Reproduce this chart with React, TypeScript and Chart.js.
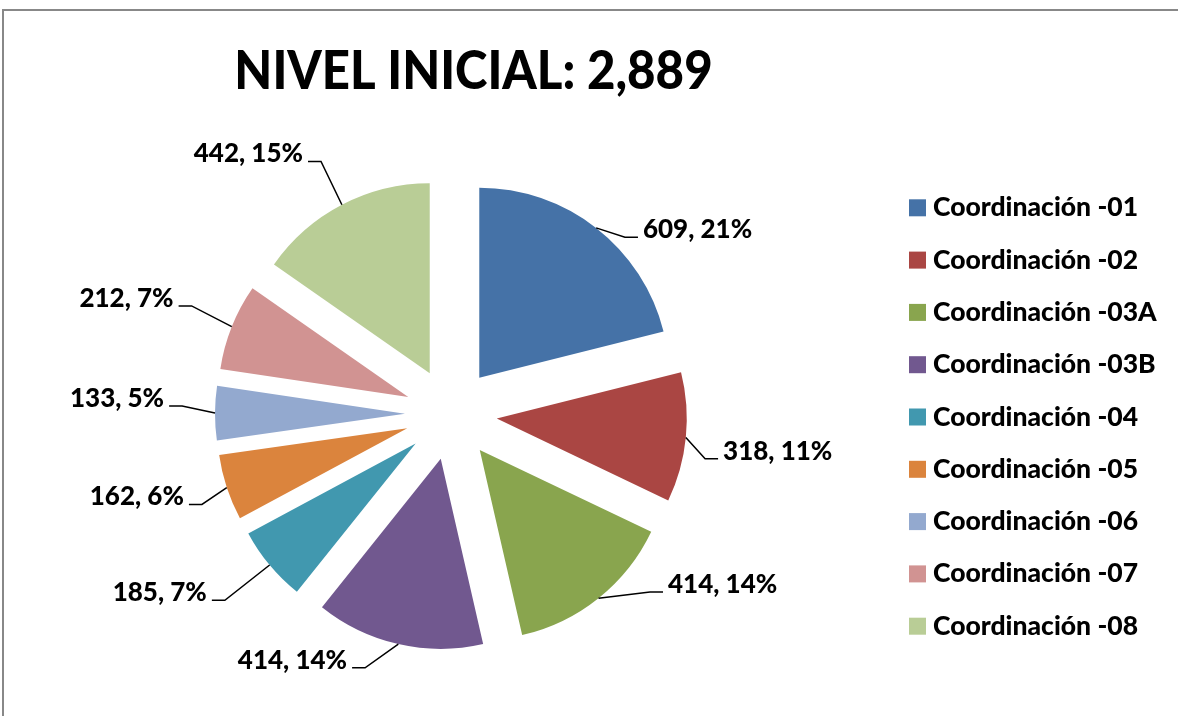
import React, { useEffect, useRef } from "react";
import { Chart, registerables } from "chart.js";

Chart.register(...registerables);

// ---- Data ----
const categories = [
  "Coordinación -01",
  "Coordinación -02",
  "Coordinación -03A",
  "Coordinación -03B",
  "Coordinación -04",
  "Coordinación -05",
  "Coordinación -06",
  "Coordinación -07",
  "Coordinación -08",
];
const values = [609, 318, 414, 414, 185, 162, 133, 212, 442];
const percentLabels = [21, 11, 14, 14, 7, 6, 5, 7, 15];
const titleText = "NIVEL INICIAL: 2,889";

// ---- Styles / label placement (not data) ----
const colors = [
  "#4572A7",
  "#AA4643",
  "#89A54E",
  "#71588F",
  "#4198AF",
  "#DB843D",
  "#93A9CF",
  "#D19392",
  "#B9CD96",
];
// angular nudge (degrees) and leader length (px) of each data label, as placed in the original
const labelNudgeDeg = [6.6, 4.3, -9.5, 5.8, 0.3, -1.8, 1.5, 0.9, 0.3];
const labelLeader = [12, 22, 31, 32, 57, 29, 33, 45, 48];

const FONT = "Lato, 'Liberation Sans', sans-serif";
const WEIGHT = "900";
const TITLE_SIZE = 54;
const TITLE_SQUEEZE = 0.91;
const LABEL_SIZE = 26;
const LEGEND_SIZE = 26.5;
const EXPLODE = 46;
const RADIUS = 190;
const LEGEND_ROW = 52.3;

const centerOf = (chart: any) => {
  const a = chart.chartArea;
  return { cx: (a.left + a.right) / 2, cy: (a.top + a.bottom) / 2 };
};

const framePlugin = {
  id: "frame",
  beforeDraw(chart: any) {
    const { ctx, width, height } = chart;
    ctx.save();
    ctx.fillStyle = "#ffffff";
    ctx.fillRect(0, 0, width, height);
    ctx.strokeStyle = "#888888";
    ctx.lineWidth = 2;
    ctx.beginPath();
    ctx.moveTo(3, height + 5);
    ctx.lineTo(3, 10);
    ctx.lineTo(width + 5, 10);
    ctx.stroke();
    ctx.restore();
  },
};

const explodePlugin = {
  id: "explode",
  beforeDatasetsDraw(chart: any) {
    const { cx, cy } = centerOf(chart);
    const meta = chart.getDatasetMeta(0);
    meta.data.forEach((arc: any) => {
      const mid = (arc.startAngle + arc.endAngle) / 2;
      arc.x = cx + EXPLODE * Math.cos(mid);
      arc.y = cy + EXPLODE * Math.sin(mid);
    });
  },
};

const labelPlugin = {
  id: "sliceLabels",
  afterDatasetsDraw(chart: any) {
    const { ctx } = chart;
    const { cx, cy } = centerOf(chart);
    const meta = chart.getDatasetMeta(0);
    ctx.save();
    ctx.font = `${WEIGHT} ${LABEL_SIZE}px ${FONT}`;
    ctx.fillStyle = "#000";
    ctx.strokeStyle = "#000";
    ctx.lineWidth = 1.5;
    meta.data.forEach((arc: any, i: number) => {
      const mid = (arc.startAngle + arc.endAngle) / 2;
      const R = arc.outerRadius;
      const px = arc.x + R * Math.cos(mid);
      const py = arc.y + R * Math.sin(mid);
      const la = mid + (labelNudgeDeg[i] * Math.PI) / 180;
      const rq = R + EXPLODE + labelLeader[i];
      const qx = cx + rq * Math.cos(la);
      const qy = cy + rq * Math.sin(la);
      const dir = Math.cos(la) >= 0 ? 1 : -1;
      const ex = qx + dir * 13;
      ctx.beginPath();
      ctx.moveTo(px, py);
      ctx.lineTo(qx, qy);
      ctx.lineTo(ex, qy);
      ctx.stroke();
      ctx.textAlign = dir > 0 ? "left" : "right";
      ctx.textBaseline = "alphabetic";
      ctx.fillText(`${values[i]}, ${percentLabels[i]}%`, ex + dir * 5, qy + 1);
    });
    ctx.restore();
  },
};

const legendPlugin = {
  id: "sideLegend",
  afterDraw(chart: any) {
    const { ctx, chartArea } = chart;
    const { cy } = centerOf(chart);
    const x = chartArea.right + 7;
    const n = categories.length;
    ctx.save();
    ctx.font = `${WEIGHT} ${LEGEND_SIZE}px ${FONT}`;
    ctx.textAlign = "left";
    ctx.textBaseline = "alphabetic";
    categories.forEach((name, i) => {
      const rowY = cy + 3 + (i - (n - 1) / 2) * LEGEND_ROW;
      ctx.fillStyle = colors[i];
      ctx.fillRect(x, rowY - 8.5, 17, 17);
      ctx.fillStyle = "#000";
      ctx.fillText(name, x + 24, rowY + 8.5);
    });
    ctx.restore();
  },
};

const titlePlugin = {
  id: "bigTitle",
  afterDraw(chart: any) {
    const { ctx } = chart;
    ctx.save();
    ctx.font = `${WEIGHT} ${TITLE_SIZE}px ${FONT}`;
    ctx.fillStyle = "#000";
    ctx.textAlign = "center";
    ctx.textBaseline = "alphabetic";
    ctx.translate(473.5, 89);
    ctx.scale(TITLE_SQUEEZE, 1);
    ctx.fillText(titleText, 0, 0);
    ctx.restore();
  },
};

export default function App() {
  const ref = useRef<HTMLCanvasElement>(null);
  useEffect(() => {
    const canvas = ref.current;
    if (!canvas) return;
    const chart = new Chart(canvas, {
      type: "pie",
      data: {
        labels: categories,
        datasets: [
          {
            data: values,
            backgroundColor: colors,
            borderWidth: 0,
          },
        ],
      },
      options: {
        responsive: false,
        animation: false,
        events: [],
        radius: RADIUS,
        layout: { padding: { left: 0, right: 276, top: 112, bottom: 0 } },
        plugins: {
          legend: { display: false },
          title: { display: false },
          tooltip: { enabled: false },
        },
      } as any,
      plugins: [framePlugin, explodePlugin, labelPlugin, legendPlugin, titlePlugin],
    });
    return () => chart.destroy();
  }, []);
  return (
    <div
      style={{
        position: "fixed",
        left: 0,
        top: 0,
        width: 1178,
        height: 716,
        background: "#fff",
      }}
    >
      <canvas
        ref={ref}
        width={1178}
        height={716}
        style={{ display: "block", width: 1178, height: 716 }}
      />
    </div>
  );
}
